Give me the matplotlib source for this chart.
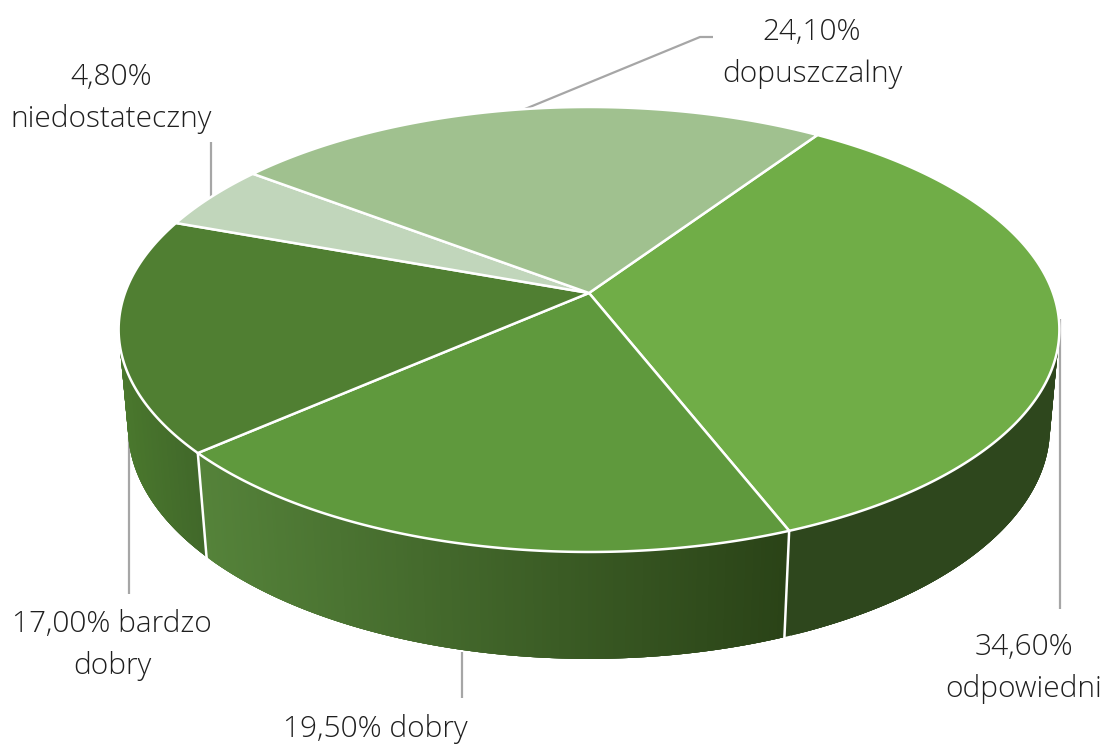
import numpy as np
import matplotlib.pyplot as plt
from matplotlib.collections import PolyCollection
from matplotlib.colors import to_rgb
from matplotlib.patches import Polygon

plt.rcParams["font.family"] = ["Open Sans", "DejaVu Sans"]

# ─── Datos ───────────────────────────────────────────────────────────────────
categories = ["odpowiedni", "dobry", "bardzo dobry", "niedostateczny", "dopuszczalny"]
values = [34.6, 19.5, 17.0, 4.8, 24.1]
top_colors = ["#70AD47", "#5F993D", "#507F32", "#C1D6BB", "#A0C18F"]
side_left = ["#2E471D", "#55833A", "#4A782D", "#507F32", "#A0C18F"]
side_right = ["#2E471D", "#2A4317", "#41682A", "#507F32", "#A0C18F"]

labels = ["34,60%\nodpowiedni", "19,50% dobry", "17,00% bardzo\ndobry",
          "4,80%\nniedostateczny", "24,10%\ndopuszczalny"]
label_xy = [(1024, 668), (375, 729), (112, 645), (111, 98), (812, 53)]
leaders = [
    [(1060, 319), (1060, 609)],
    [(462, 652), (462, 698)],
    [(129, 435), (129, 594)],
    [(211, 142), (211, 197)],
    [(525, 109), (700, 37), (713, 37)],
]

START_DEG = 34.0
TEXT_COLOR = "#1F1F1F"
LEADER_COLOR = "#A6A6A6"

# plano superior e inferior: centro, semiejes y perspectiva
TOP = dict(cx=589.0, cy=293.0, a=464.0, b=216.5, k=-0.164)
BOTTOM = dict(cx=589.0, cy=391.0, a=455.0, b=225.0, k=-0.16)


def project(deg, plane):
    """Angulo (horario desde arriba) a pixeles en el plano dado."""
    t = np.radians(deg)
    u, v = np.sin(t), -np.cos(t)
    w = 1 + plane["k"] * v
    return plane["cx"] + plane["a"] * u / w, plane["cy"] + plane["b"] * v / w


fig = plt.figure(figsize=(11.09, 7.47), dpi=100)
ax = fig.add_axes([0, 0, 1, 1])
ax.set_xlim(0, 1109)
ax.set_ylim(747, 0)
ax.axis("off")

edges = START_DEG + np.concatenate([[0], np.cumsum(values)]) * 3.6

# ── Lineas guia ──────────────────────────────────────────────────────────
for pts in leaders:
    xs, ys = zip(*pts)
    ax.plot(xs, ys, color=LEADER_COLOR, lw=1.6, zorder=1, solid_capstyle="butt")

# ── Pared lateral ────────────────────────────────────────────────────────
for i in [2, 1, 0]:
    angles = np.linspace(edges[i], edges[i + 1], 161)
    tx, ty = project(angles, TOP)
    bx, by = project(angles, BOTTOM)
    quads, cols = [], []
    c0, c1 = np.array(to_rgb(side_left[i])), np.array(to_rgb(side_right[i]))
    lo, hi = bx.min(), bx.max()
    # cada tramo pisa a los dos siguientes, asi no quedan costuras
    order = range(len(angles) - 1) if bx[0] < bx[-1] else range(len(angles) - 2, -1, -1)
    step = 3 if bx[0] < bx[-1] else -3
    for j in order:
        e = int(np.clip(j + step, 0, len(angles) - 1))
        a, b = (j, e) if step > 0 else (e, j + 1)
        quads.append(np.column_stack([np.r_[tx[a:b + 1], bx[a:b + 1][::-1]],
                                      np.r_[ty[a:b + 1], by[a:b + 1][::-1]]]))
        f = (bx[j] - lo) / (hi - lo)
        cols.append(c0 + (c1 - c0) * f)
    ax.add_collection(PolyCollection(quads, facecolors=cols, edgecolors="none", zorder=2))

# separadores verticales de la pared
for deg in edges[1:3]:
    tx, ty = project(deg, TOP)
    bx, by = project(deg, BOTTOM)
    ax.plot([tx, bx], [ty, by], color="white", lw=1.8, zorder=3)

# ── Cara superior ────────────────────────────────────────────────────────
for i, color in enumerate(top_colors):
    angles = np.linspace(edges[i], edges[i + 1], 200)
    x, y = project(angles, TOP)
    pts = np.column_stack([np.r_[TOP["cx"], x], np.r_[TOP["cy"], y]])
    ax.add_patch(Polygon(pts, closed=True, facecolor=color, edgecolor="white",
                         lw=1.8, joinstyle="round", zorder=4))

# ── Etiquetas ────────────────────────────────────────────────────────────
for text, (x, y) in zip(labels, label_xy):
    ax.text(x, y, text, ha="center", va="center", fontsize=21.5, fontweight="light",
            color=TEXT_COLOR, linespacing=1.52, zorder=5)

plt.savefig("out.png", dpi=100)
